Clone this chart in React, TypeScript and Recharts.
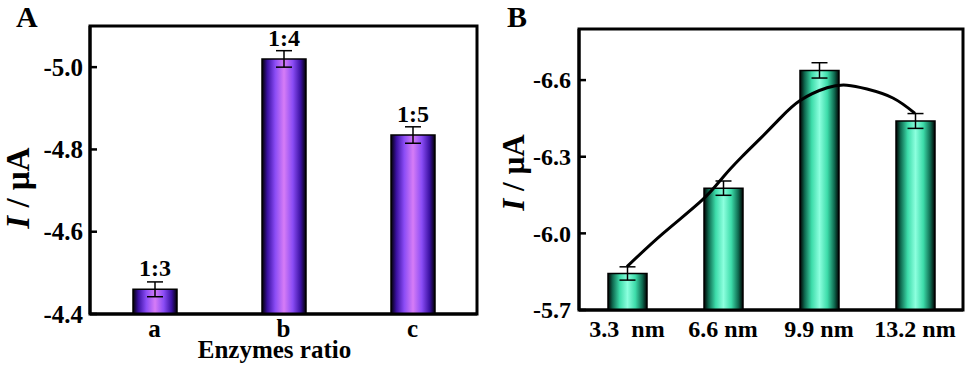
import React from 'react';
import {
  BarChart, ComposedChart, Bar, Scatter, XAxis, YAxis, ErrorBar, LabelList, ReferenceArea,
} from 'recharts';

// ---------- Panel A data ----------
const enzymeCats = ['a', 'b', 'c'];
const enzymeRatios = ['1:3', '1:4', '1:5'];
const enzymeCurrent = [-4.46, -5.02, -4.835];
const enzymeErr = [0.018, 0.02, 0.02];
const enzymeTicks = [-5.0, -4.8, -4.6, -4.4];

// ---------- Panel B data ----------
const sizeCats = ['3.3\u00a0 nm', '6.6 nm', '9.9 nm', '13.2 nm'];
const sizeCurrent = [-5.843, -6.177, -6.638, -6.44];
const sizeErr = [0.026, 0.028, 0.03, 0.029];
const sizeTicks = [-6.6, -6.3, -6.0, -5.7];
// fitted curve (x in nm, current in µA)
const fitX = [3.3, 4.54, 5.88, 6.6, 7.25, 7.87, 8.56, 9.25, 10.18, 10.86, 11.55, 12.44, 13.2];
const fitY = [-5.87, -6.0, -6.13, -6.22, -6.3, -6.37, -6.45, -6.52, -6.57, -6.58, -6.565, -6.53, -6.47];

const dataA = enzymeCats.map((c, i) => ({ cat: c, v: enzymeCurrent[i], err: enzymeErr[i], ratio: enzymeRatios[i] }));
const dataB = sizeCats.map((c, i) => ({ size: c, v: sizeCurrent[i], err: sizeErr[i] }));
const curveB = fitX.map((x, i) => ({ x, v: fitY[i] }));

const FONT = '"Liberation Serif", "Times New Roman", Times, serif';

const yTitle = (fs: number, ox: number, shift: number) => (props: any) => {
  const vb = props.viewBox || {};
  const cx = (vb.x ?? 0) + ox;
  const cy = (vb.y ?? 0) + (vb.height ?? 0) / 2 + shift;
  return (
    <text
      x={cx}
      y={cy}
      transform={`rotate(-90 ${cx} ${cy})`}
      textAnchor="middle"
      dominantBaseline="central"
      fontFamily={FONT}
      fontWeight="bold"
      fontSize={fs}
      fill="#000"
    >
      <tspan fontStyle="italic">I</tspan>
      <tspan>{'\u00a0/\u00a0µA'}</tspan>
    </text>
  );
};

const xTitleA = (props: any) => {
  const vb = props.viewBox || {};
  const cx = (vb.x ?? 0) + (vb.width ?? 0) / 2 - 9;
  const cy = (vb.y ?? 0) + 44;
  return (
    <text x={cx} y={cy} textAnchor="middle" fontFamily={FONT} fontWeight="bold" fontSize={25} fill="#000">
      Enzymes ratio
    </text>
  );
};

// y tick with an inward tick mark
const yTick = (fs: number, gap: number) => (props: any) => {
  const { x, y, payload } = props;
  return (
    <g>
      <line x1={x + gap} x2={x + gap + 7} y1={y} y2={y} stroke="#000" strokeWidth={2.5} />
      <text
        x={x}
        y={y}
        dy="0.35em"
        textAnchor="end"
        fontFamily={FONT}
        fontWeight="bold"
        fontSize={fs}
        fill="#000"
      >
        {Number(payload.value).toFixed(1)}
      </text>
    </g>
  );
};

const axisLine = { stroke: '#000', strokeWidth: 3 };

export default function App() {
  return (
    <div style={{ position: 'absolute', left: 0, top: 0, width: 969, height: 370, background: '#fff', overflow: 'hidden' }}>
      <div style={{ position: 'absolute', left: 16, top: 2, fontFamily: FONT, fontWeight: 'bold', fontSize: 30, lineHeight: '30px' }}>A</div>
      <div style={{ position: 'absolute', left: 507, top: 2, fontFamily: FONT, fontWeight: 'bold', fontSize: 30, lineHeight: '30px' }}>B</div>

      <div style={{ position: 'absolute', left: 0, top: 0 }}>
        <BarChart width={490} height={370} data={dataA} margin={{ top: 26, right: 13, bottom: 0, left: 0 }}>
          <defs>
            <linearGradient id="gradA" x1="0" y1="0" x2="1" y2="0">
              <stop offset="0%" stopColor="#000000" />
              <stop offset="12%" stopColor="#3a10a0" />
              <stop offset="30%" stopColor="#8a4cf5" />
              <stop offset="50%" stopColor="#d67cf6" />
              <stop offset="70%" stopColor="#8a4cf5" />
              <stop offset="88%" stopColor="#3a10a0" />
              <stop offset="100%" stopColor="#000000" />
            </linearGradient>
          </defs>
          <XAxis
            dataKey="cat"
            height={56}
            interval={0}
            tickLine={false}
            tickSize={0}
            tickMargin={5}
            axisLine={axisLine}
            tick={{ fontSize: 25, fontWeight: 'bold', fontFamily: FONT, fill: '#000' }}
            label={xTitleA}
          />
          <YAxis
            dataKey="v"
            domain={[-5.1, -4.4]}
            reversed
            allowDataOverflow
            ticks={enzymeTicks}
            interval={0}
            width={90}
            tickSize={0}
            tickMargin={7}
            tickLine={false}
            axisLine={axisLine}
            tick={yTick(25, 7)}
            label={yTitle(33, 18, 18)}
          />
          <ReferenceArea y1={-5.1} y2={-4.4} fill="none" fillOpacity={0} stroke="#000" strokeWidth={3} />
          <Bar dataKey="v" barSize={44} fill="url(#gradA)" stroke="#000" strokeWidth={1.5} isAnimationActive={false}>
            <ErrorBar dataKey="err" width={8} stroke="#000" strokeWidth={1.5} direction="y" />
            <LabelList
              dataKey="ratio"
              position="top"
              offset={13}
              style={{ fontSize: 24, fontWeight: 'bold', fontFamily: FONT, fill: '#000' }}
            />
          </Bar>
        </BarChart>
      </div>

      <div style={{ position: 'absolute', left: 490, top: 0 }}>
        <ComposedChart width={479} height={370} data={dataB} margin={{ top: 29, right: 6, bottom: 0, left: 0 }}>
          <defs>
            <linearGradient id="gradB" x1="0" y1="0" x2="1" y2="0">
              <stop offset="0%" stopColor="#000000" />
              <stop offset="12%" stopColor="#0f6a50" />
              <stop offset="30%" stopColor="#3ddcaa" />
              <stop offset="50%" stopColor="#8cffde" />
              <stop offset="70%" stopColor="#3ddcaa" />
              <stop offset="88%" stopColor="#0f6a50" />
              <stop offset="100%" stopColor="#000000" />
            </linearGradient>
          </defs>
          <XAxis
            dataKey="size"
            height={60}
            interval={0}
            tickLine={false}
            tickSize={0}
            tickMargin={10}
            axisLine={axisLine}
            tick={{ fontSize: 24, fontWeight: 'bold', fontFamily: FONT, fill: '#000' }}
          />
          <XAxis xAxisId="num" type="number" dataKey="x" domain={[1.65, 14.85]} allowDataOverflow hide />
          <YAxis
            dataKey="v"
            domain={[-6.8, -5.7]}
            reversed
            allowDataOverflow
            ticks={sizeTicks}
            interval={0}
            width={89}
            tickSize={0}
            tickMargin={8}
            tickLine={false}
            axisLine={axisLine}
            tick={yTick(24, 8)}
            label={yTitle(31, 23, 3)}
          />
          <ReferenceArea y1={-6.8} y2={-5.7} fill="none" fillOpacity={0} stroke="#000" strokeWidth={3} />
          <Bar dataKey="v" barSize={39} fill="url(#gradB)" stroke="#000" strokeWidth={1.5} isAnimationActive={false}>
            <ErrorBar dataKey="err" width={8} stroke="#000" strokeWidth={1.5} direction="y" />
          </Bar>
          <Scatter
            xAxisId="num"
            data={curveB}
            dataKey="v"
            line={{ stroke: '#000', strokeWidth: 3 }}
            lineJointType="natural"
            shape={() => <g />}
            isAnimationActive={false}
          />
        </ComposedChart>
      </div>
    </div>
  );
}
